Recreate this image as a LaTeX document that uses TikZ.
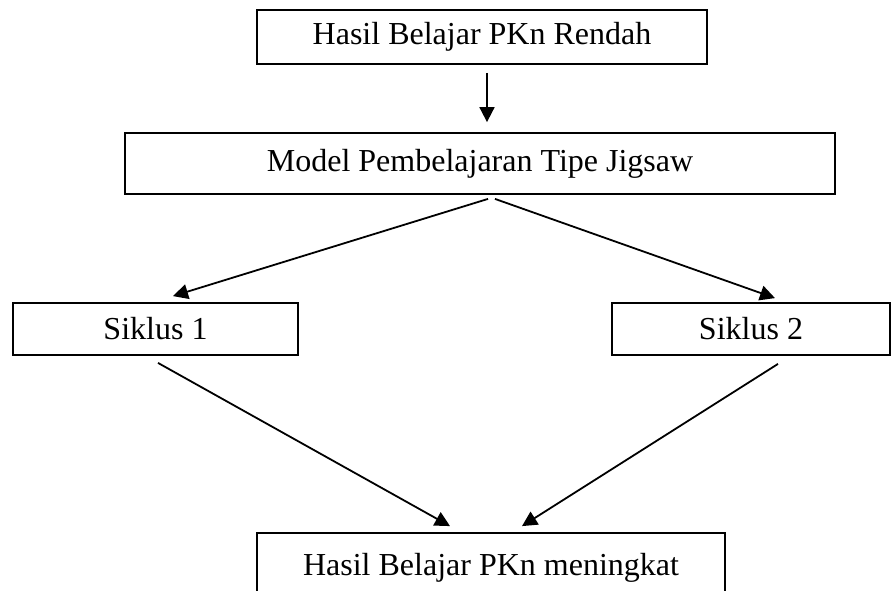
\documentclass[tikz,border=0pt]{standalone}
\usepackage{fontspec}
\setmainfont{Liberation Serif}
\usetikzlibrary{calc,arrows.meta}
\begin{document}
\begin{tikzpicture}[x=1pt,y=1pt,
  box/.style={draw,line width=1.8pt,rectangle,inner sep=0pt,font=\fontsize{32}{38}\selectfont},
  arr/.style={line width=1.8pt,-{Triangle[length=15pt,width=15pt]}}]
\useasboundingbox (0,0) rectangle (891,-590);
\node[box,minimum width=450,minimum height=54] (b1) at (482,-37) {Hasil Belajar PKn Rendah};
\node[box,minimum width=710,minimum height=61] (b2) at (480,-163.5) {Model Pembelajaran Tipe Jigsaw};
\node[box,minimum width=285,minimum height=52] (b3) at (155.5,-329) {Siklus 1};
\node[box,minimum width=278,minimum height=52] (b4) at (751,-329) {Siklus 2};
\node[box,minimum width=468,minimum height=61,text depth=0pt] (b5) at (491,-563.5) {\raisebox{-2pt}{Hasil Belajar PKn meningkat}};
\draw[arr] ($(b1.south)+(5,-8)$) -- ($(b2.north)+(7,10)$);
\draw[arr] ($(b2.south)+(8,-4)$) -- ($(b3.north)+(17.5,6)$);
\draw[arr] ($(b2.south)+(15,-4)$) -- ($(b4.north)+(24,4)$);
\draw[arr] ($(b3.south)+(2.5,-7)$) -- ($(b5.north)+(-41,6)$);
\draw[arr] ($(b4.south)+(27,-8)$) -- ($(b5.north)+(31,6)$);
\end{tikzpicture}
\end{document}
